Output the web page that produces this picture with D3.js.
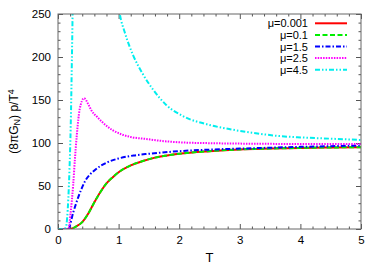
<!DOCTYPE html>
<html>
<head>
<meta charset="utf-8">
<script src="https://cdnjs.cloudflare.com/ajax/libs/d3/7.8.5/d3.min.js"></script>
<style>
  body { margin: 0; background: #fff; }
  text { font-family: "Liberation Sans", Arial, sans-serif; }
</style>
</head>
<body>
<script>
// 曲線データ
var T_low   = [0, 0.1, 0.2, 0.25, 0.3, 0.4, 0.5, 0.6, 0.7, 0.8, 0.9, 1.0, 1.2, 1.4, 1.6, 1.8, 2.0, 2.5, 3.0, 3.5, 4.0, 4.5, 5.0];
var mu0001  = [0, 0, 0, 1, 3, 8, 18, 31, 43, 53, 60, 66, 74, 79, 83, 85.5, 87.5, 90.5, 92.5, 93.5, 94.3, 94.8, 95.2];
var mu01    = [0, 0, 0, 1, 3, 8, 18, 31, 43, 53, 60, 66, 74, 79, 83, 85.5, 87.5, 90.5, 92.5, 93.5, 94.3, 94.8, 95.2];

var T_mu15  = [0, 0.1, 0.17, 0.25, 0.35, 0.45, 0.6, 0.8, 1.0, 1.25, 1.5, 2.0, 2.5, 3.0, 3.5, 4.0, 4.5, 5.0];
var mu15    = [0, 0, 0, 19, 40, 56, 68, 77, 82, 85.5, 87.5, 90.5, 92.3, 93.5, 94.5, 95.5, 96.3, 97];

var T_mu25  = [0, 0.1, 0.17, 0.21, 0.25, 0.28, 0.31, 0.36, 0.43, 0.5, 0.55, 0.65, 0.72, 0.8, 0.9, 1.05, 1.2, 1.45, 1.7, 2.0, 2.5, 3.0, 3.5, 4.0, 5.0];
var mu25    = [0, 0, 0, 20, 51, 82, 109, 140, 152, 145, 138, 130, 125, 120, 115, 110, 107, 104.7, 102.5, 100.8, 99.8, 99.3, 99, 98.9, 98.8];

var T_mu45  = [0, 0.1, 0.13, 0.15, 0.17, 0.19, 0.21, 0.23, 0.25, 0.3, 0.9, 0.97, 1.02, 1.1, 1.24, 1.41, 1.57, 1.79, 2.07, 2.5, 2.84, 3.2, 3.66, 4.0, 4.5, 5.0];
var mu45    = [0, 0, 2, 12, 35, 70, 120, 200, 290, 400, 400, 275, 250, 229, 202, 179, 162, 144, 131, 121, 116, 112, 108, 106.5, 105, 103.5];

var labels  = ["μ=0.001", "μ=0.1", "μ=1.5", "μ=2.5", "μ=4.5"];
var colors  = ["#ff0000", "#00ee00", "#0000ff", "#ff00ff", "#00eeee"];
var dashes  = ["", "5,2.5", "5,2,1.5,2", "1.5,1.2", "5,2,1.5,2,1.5,2"];

var xTicks = [0, 1, 2, 3, 4, 5];
var yTicks = [0, 50, 100, 150, 200, 250];

var series = [
    {x: T_low, y: mu0001},
    {x: T_low, y: mu01},
    {x: T_mu15, y: mu15},
    {x: T_mu25, y: mu25},
    {x: T_mu45, y: mu45}
];

var W = 382, H = 267;
var pL = 58, pR = 361, pT = 14, pB = 229;

var svg = d3.select("body").append("svg")
    .attr("width", W)
    .attr("height", H);

var x = d3.scaleLinear().domain([0, 5]).range([pL, pR]);
var y = d3.scaleLinear().domain([0, 250]).range([pB, pT]);

svg.append("clipPath").attr("id", "clip")
    .append("rect")
    .attr("x", pL).attr("y", pT)
    .attr("width", pR - pL).attr("height", pB - pT);

// 副目盛り
var xMinor = d3.range(0, 5.001, 0.2).filter(function(v) { return Math.abs(v - Math.round(v)) > 0.01; });
var yMinor = d3.range(0, 251, 10).filter(function(v) { return v % 50 != 0; });

function drawAxis(axis, tx, ty) {
    var g = svg.append("g")
        .attr("transform", "translate(" + tx + "," + ty + ")")
        .call(axis);
    g.select(".domain").remove();
    g.selectAll("line").attr("stroke", "#555");
    g.selectAll("text")
        .style("font-size", "11.5px")
        .style("font-family", "'Liberation Sans', Arial, sans-serif")
        .attr("fill", "#000");
    return g;
}

// 下・左（ラベル付き）
drawAxis(d3.axisBottom(x).tickValues(xTicks).tickSize(-5).tickPadding(7).tickFormat(d3.format("d")), 0, pB);
drawAxis(d3.axisLeft(y).tickValues(yTicks).tickSize(-5).tickPadding(7).tickFormat(d3.format("d")), pL, 0);
// 上・右（ミラー）
drawAxis(d3.axisTop(x).tickValues(xTicks).tickSize(-5).tickFormat(""), 0, pT);
drawAxis(d3.axisRight(y).tickValues(yTicks).tickSize(-5).tickFormat(""), pR, 0);
// 副目盛り
drawAxis(d3.axisBottom(x).tickValues(xMinor).tickSize(-2.5).tickFormat(""), 0, pB);
drawAxis(d3.axisTop(x).tickValues(xMinor).tickSize(-2.5).tickFormat(""), 0, pT);
drawAxis(d3.axisLeft(y).tickValues(yMinor).tickSize(-2.5).tickFormat(""), pL, 0);
drawAxis(d3.axisRight(y).tickValues(yMinor).tickSize(-2.5).tickFormat(""), pR, 0);

// 曲線
var line = d3.line()
    .x(function(d) { return x(d[0]); })
    .y(function(d) { return y(d[1]); })
    .curve(d3.curveMonotoneX);

var plot = svg.append("g").attr("clip-path", "url(#clip)");
series.forEach(function(s, i) {
    var pts = s.x.map(function(t, j) { return [t, s.y[j]]; });
    plot.append("path")
        .attr("d", line(pts))
        .attr("fill", "none")
        .attr("stroke", colors[i])
        .attr("stroke-width", 2)
        .attr("stroke-dasharray", dashes[i]);
});

// 枠
svg.append("rect")
    .attr("x", pL).attr("y", pT)
    .attr("width", pR - pL).attr("height", pB - pT)
    .attr("fill", "none")
    .attr("stroke", "#666")
    .attr("stroke-width", 1);

// 凡例
var legend = svg.append("g");
labels.forEach(function(lab, i) {
    var ly = 23.3 + i * 11.6;
    legend.append("text")
        .attr("x", 308).attr("y", ly + 4)
        .attr("text-anchor", "end")
        .style("font-size", "11px")
        .text(lab);
    legend.append("line")
        .attr("x1", 315).attr("x2", 347)
        .attr("y1", ly).attr("y2", ly)
        .attr("stroke", colors[i])
        .attr("stroke-width", 2)
        .attr("stroke-dasharray", dashes[i]);
});

// 軸ラベル
svg.append("text")
    .attr("x", (pL + pR) / 2).attr("y", 262)
    .attr("text-anchor", "middle")
    .style("font-size", "13px")
    .text("T");

var ylab = svg.append("text")
    .attr("transform", "translate(18," + ((pT + pB) / 2) + ") rotate(-90)")
    .attr("text-anchor", "middle")
    .style("font-size", "12px");
ylab.append("tspan").text("(8πG");
ylab.append("tspan").attr("baseline-shift", "-25%").style("font-size", "9px").text("N");
ylab.append("tspan").text(") p/T");
ylab.append("tspan").attr("baseline-shift", "40%").style("font-size", "9px").text("4");
</script>
</body>
</html>
